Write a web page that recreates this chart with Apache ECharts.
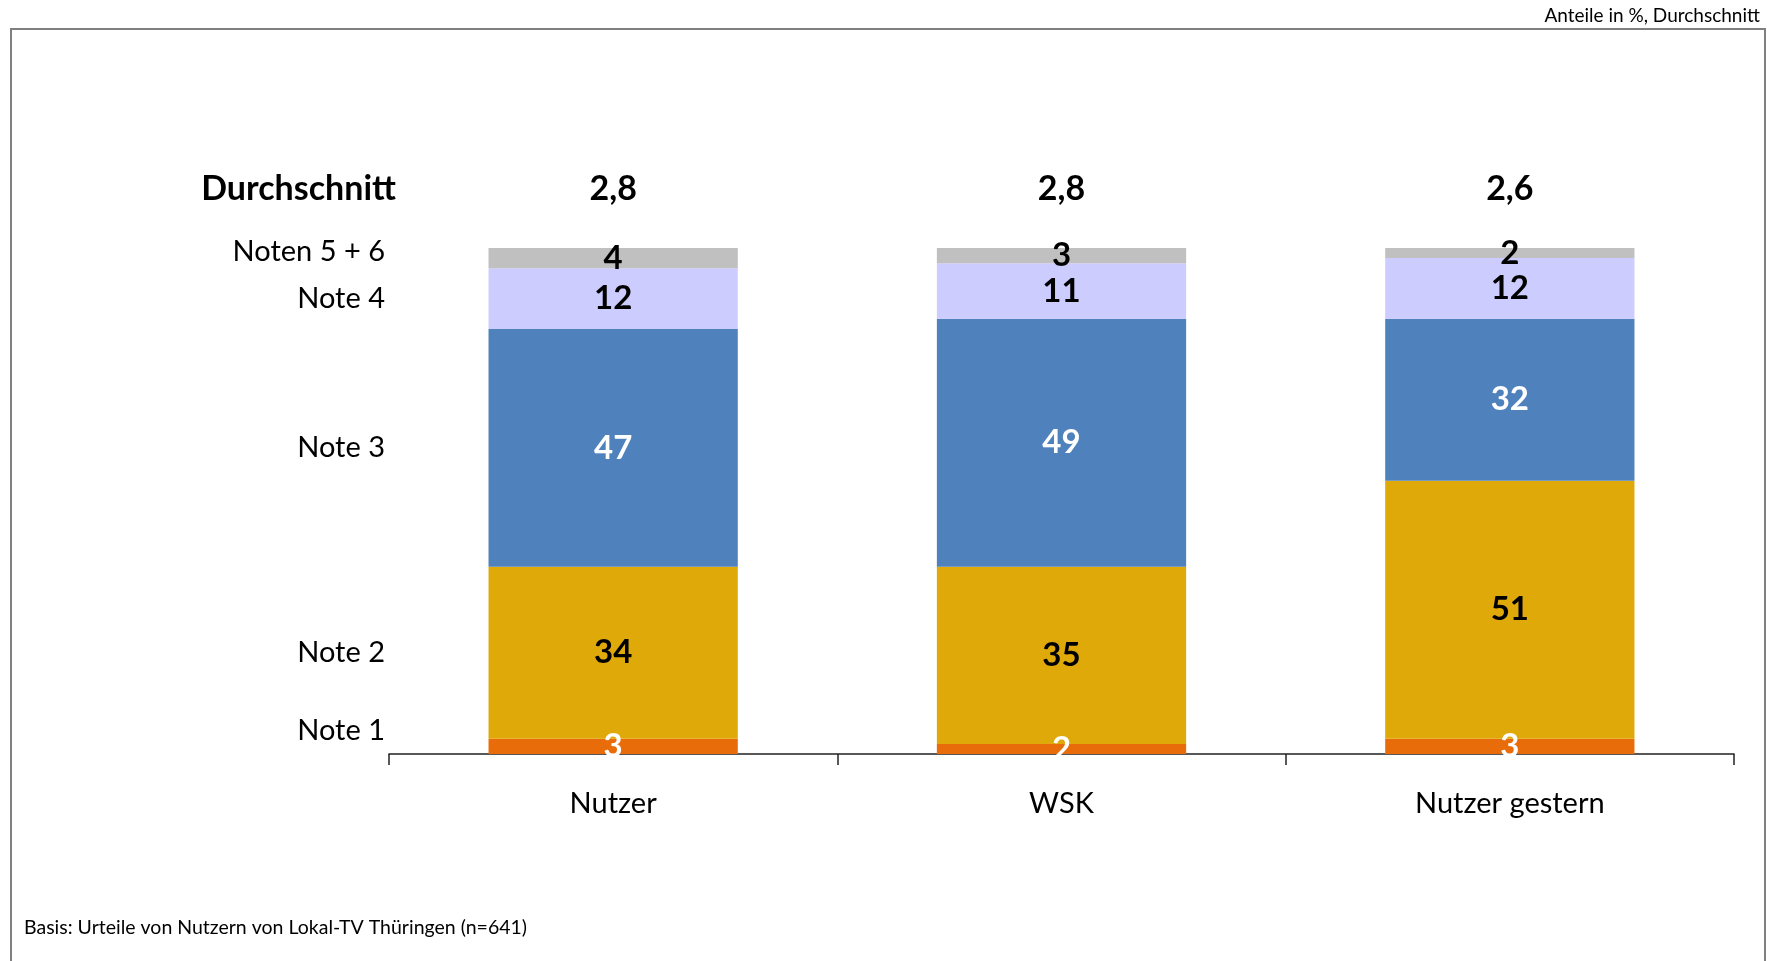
<!DOCTYPE html>
<html>
<head>
<meta charset="utf-8">
<script src="https://cdn.jsdelivr.net/npm/echarts@6/dist/echarts.min.js"></script>
<style>
    html, body { margin: 0; padding: 0; background: #fff; }
    #chartWrap { width: 1767px; height: 961px; }
</style>
</head>
<body>
<div id="chartWrap"></div>
<script>
// 数据
var categories = ['Nutzer', 'WSK', 'Nutzer gestern'];
var averages = ['2,8', '2,8', '2,6'];
var seriesNames = ['Note 1', 'Note 2', 'Note 3', 'Note 4', 'Noten 5 + 6'];
var note1 = [3, 2, 3];
var note2 = [34, 35, 51];
var note3 = [47, 49, 32];
var note4 = [12, 11, 12];
var note56 = [4, 3, 2];

// 样式
var barColors = ['#E96C0A', '#E0A90A', '#4F81BD', '#CCCCFF', '#C0C0C0'];
var labelColors = ['#fff', '#000', '#fff', '#000', '#000'];
var leftLabelShift = [-16, 0, 0, 0, -6]; // Note 1 / Noten 5+6 略微上移
var font = 'Lato, "Open Sans", sans-serif';

var myChart = echarts.init(document.getElementById('chartWrap'));

var values = [note1, note2, note3, note4, note56];
var series = values.map(function (data, i) {
    return {
        name: seriesNames[i],
        type: 'bar',
        stack: 'total',
        barWidth: '55.6%',
        data: data,
        itemStyle: { color: barColors[i] },
        label: {
            show: true,
            position: 'inside',
            fontSize: 33,
            fontWeight: 'bold',
            fontFamily: font,
            color: labelColors[i]
        }
    };
});

myChart.setOption({
    animation: false,
    backgroundColor: '#fff',
    textStyle: { fontFamily: font },
    grid: { left: 389, right: 33, top: 248, bottom: 207 },
    xAxis: [{
        type: 'category',
        data: categories,
        axisLine: { lineStyle: { color: '#222', width: 1.5 } },
        axisTick: { show: true, length: 11, lineStyle: { color: '#222', width: 1.5 } },
        axisLabel: { fontSize: 29, color: '#000', margin: 35 }
    }, {
        type: 'category',
        data: averages,
        position: 'top',
        axisLine: { show: false },
        axisTick: { show: false },
        axisLabel: { fontSize: 34, fontWeight: 'bold', color: '#000', margin: 42 }
    }],
    yAxis: { type: 'value', min: 0, max: 100, show: false },
    series: series
});

// 左侧系列名称 + 其它文字
var graphics = [{
    type: 'rect',
    shape: { x: 11, y: 29, width: 1754, height: 960 },
    style: { fill: 'none', stroke: '#808080', lineWidth: 2 },
    silent: true
}, {
    type: 'text',
    style: { text: 'Anteile in %, Durchschnitt', x: 1760, y: 16, align: 'right', verticalAlign: 'middle', fontSize: 19, fontFamily: font, fill: '#000' }
}, {
    type: 'text',
    style: { text: 'Durchschnitt', x: 396, y: 189, align: 'right', verticalAlign: 'middle', fontSize: 34, fontWeight: 'bold', fontFamily: font, fill: '#000' }
}, {
    type: 'text',
    style: { text: 'Basis: Urteile von Nutzern von Lokal-TV Thüringen (n=641)', x: 24, y: 928, verticalAlign: 'middle', fontSize: 19.5, fontFamily: font, fill: '#000' }
}];

var cum = 0;
for (var i = 0; i < values.length; i++) {
    var mid = cum + values[i][0] / 2;
    cum += values[i][0];
    var py = myChart.convertToPixel({ yAxisIndex: 0 }, mid);
    graphics.push({
        type: 'text',
        style: {
            text: seriesNames[i], x: 385, y: py + leftLabelShift[i],
            align: 'right', verticalAlign: 'middle', fontSize: 29, fontFamily: font, fill: '#000'
        }
    });
}

myChart.setOption({ graphic: graphics });
</script>
</body>
</html>
